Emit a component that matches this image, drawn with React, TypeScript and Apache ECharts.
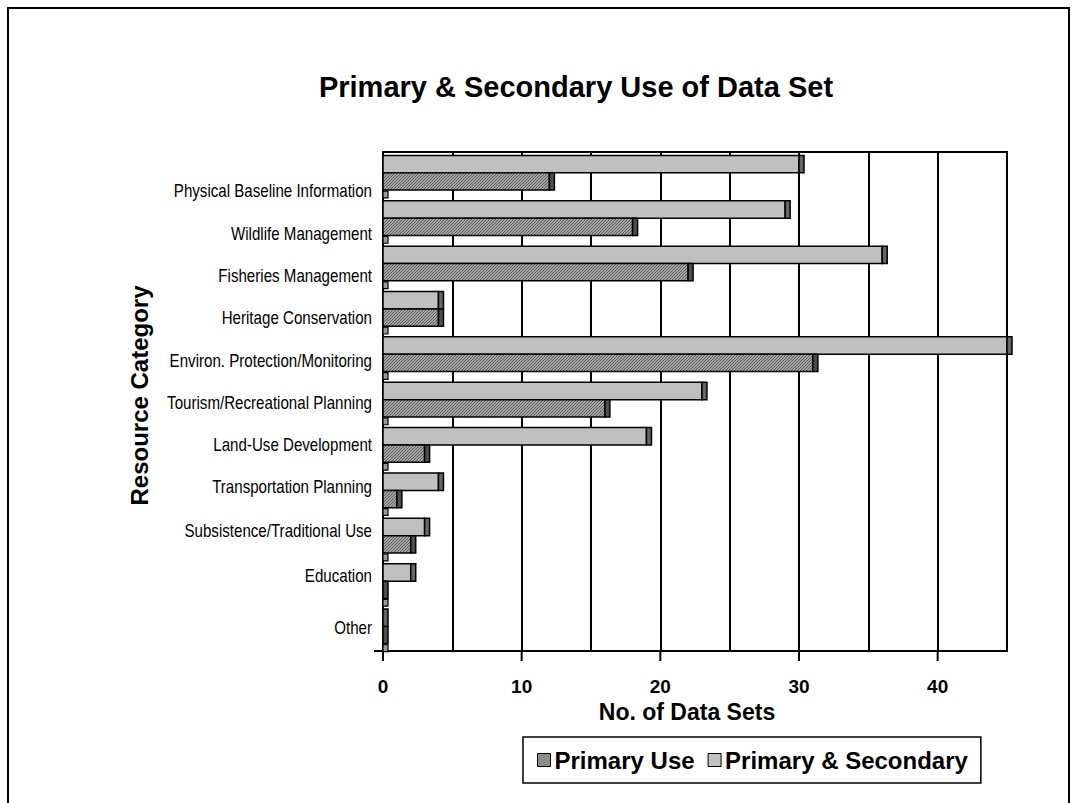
import React, { useEffect, useRef } from "react";
import * as echarts from "echarts";

const categories = [
  "Physical Baseline Information",
  "Wildlife Management",
  "Fisheries Management",
  "Heritage Conservation",
  "Environ. Protection/Monitoring",
  "Tourism/Recreational Planning",
  "Land-Use Development",
  "Transportation Planning",
  "Subsistence/Traditional Use",
  "Education",
  "Other",
];
const primaryUse = [12, 18, 22, 4, 31, 16, 3, 1, 2, 0, 0];
const primaryAndSecondary = [30, 29, 36, 4, 45, 23, 19, 4, 3, 2, 0];
const xTickValues = [0, 10, 20, 30, 40];
const seriesNames = ["Primary Use", "Primary & Secondary"];
const titleText = "Primary & Secondary Use of Data Set";
const xAxisTitle = "No. of Data Sets";
const yAxisTitle = "Resource Category";

// vertical shift of each category label (3D perspective look of the original)
const labelShift = [16, 14, 11, 7, 5, 1.5, -2, -4.7, -6.6, -6.5, 0];

function makeHatch() {
  const c = document.createElement("canvas");
  c.width = 3;
  c.height = 3;
  const g = c.getContext("2d")!;
  g.fillStyle = "#a4a4a4";
  g.fillRect(0, 0, 3, 3);
  g.fillStyle = "#5e5e5e";
  for (let x = 0; x < 3; x++) {
    for (let y = 0; y < 3; y++) {
      if ((x + y) % 3 === 0) g.fillRect(x, y, 1, 1);
    }
  }
  return c;
}

export default function App() {
  const ref = useRef<HTMLDivElement>(null);
  useEffect(() => {
    if (!ref.current) return;
    const chart = echarts.init(ref.current, undefined, { renderer: "svg" });
    const boldFont = "'Liberation Sans', Arial, sans-serif";
    const hatch = { image: makeHatch(), repeat: "repeat" } as any;
    const lightFill = "#c0c0c0";
    const CAP = 5;

    const render = (kind: "ps" | "pu") => (params: any, api: any) => {
      const v = api.value(0);
      const ci = api.value(1);
      const p0 = api.coord([0, ci]);
      const p1 = api.coord([v, ci]);
      const bh = api.size([0, 1])[1];
      const top = p0[1] - bh / 2;
      let y0: number, y1: number;
      if (kind === "ps") {
        y0 = top + bh * 0.075;
        y1 = top + bh * 0.46;
      } else {
        y0 = top + bh * 0.46;
        y1 = top + bh * 0.84;
      }
      const children: any[] = [];
      const w = p1[0] - p0[0];
      if (w > 0) {
        children.push({
          type: "rect",
          shape: { x: p0[0], y: y0, width: w, height: y1 - y0 },
          style: { fill: kind === "ps" ? lightFill : hatch, stroke: "#000", lineWidth: 1.5 },
        });
      }
      children.push({
        type: "rect",
        shape: { x: p1[0], y: y0, width: CAP, height: y1 - y0 },
        style: { fill: kind === "ps" ? "#666666" : "#4e4e4e", stroke: "#000", lineWidth: 1.5 },
      });
      if (kind === "pu") {
        children.push({
          type: "rect",
          shape: { x: p0[0], y: y1 + 1, width: CAP, height: bh * 0.15 },
          style: { fill: "#9a9a9a", stroke: "#000", lineWidth: 1.2 },
        });
      }
      return { type: "group", children };
    };

    const renderLabel = (params: any, api: any) => {
      const ci = api.value(1);
      const p = api.coord([0, ci]);
      return {
        type: "text",
        x: p[0] - 11,
        y: p[1] + labelShift[ci],
        scaleX: 0.84,
        style: {
          text: categories[ci],
          x: 0,
          y: 0,
          align: "right",
          verticalAlign: "middle",
          fontSize: 18,
          fontFamily: "'Liberation Sans', Arial, sans-serif",
          fill: "#000",
        },
      };
    };

    const renderTick = (params: any, api: any) => {
      const v = api.value(0);
      const last = categories.length - 1;
      const p = api.coord([v, last]);
      const bh = api.size([0, 1])[1];
      const yb = p[1] + bh / 2;
      const children: any[] = [
        {
          type: "rect",
          shape: { x: p[0] - 1, y: yb, width: 2, height: 10 },
          style: { fill: "#000" },
        },
      ];
      if (v === 0) {
        children.push({
          type: "rect",
          shape: { x: p[0] - 9, y: yb - 1, width: 9, height: 2 },
          style: { fill: "#000" },
        });
      }
      return { type: "group", children };
    };

    chart.setOption({
      animation: false,
      backgroundColor: "#ffffff",
      title: {
        text: titleText,
        left: 571,
        top: 67,
        textAlign: "center",
        textStyle: { fontSize: 29, fontWeight: "bold", fontFamily: boldFont, color: "#000" },
      },
      graphic: [
        {
          type: "rect",
          shape: { x: 8, y: 8, width: 1061, height: 820 },
          style: { fill: "none", stroke: "#000", lineWidth: 2 },
          silent: true,
        },
      ],
      legend: {
        left: 523,
        top: 737,
        orient: "horizontal",
        padding: [11, 13, 11, 14],
        itemGap: 13,
        itemWidth: 13,
        itemHeight: 13,
        borderColor: "#000",
        borderWidth: 1.5,
        textStyle: { fontSize: 24, fontWeight: "bold", fontFamily: boldFont, color: "#000", padding: [0, 0, 0, -1] },
        data: [
          { name: seriesNames[0], icon: "rect", itemStyle: { color: hatch, borderColor: "#000", borderWidth: 1 } },
          { name: seriesNames[1], icon: "rect", itemStyle: { color: lightFill, borderColor: "#000", borderWidth: 1 } },
        ],
      },
      grid: {
        left: 383,
        right: 71,
        top: 152,
        bottom: 152,
        show: true,
        borderColor: "#000",
        borderWidth: 2,
        backgroundColor: "#fff",
      },
      xAxis: {
        type: "value",
        min: 0,
        max: 45,
        interval: 10,
        name: xAxisTitle,
        nameLocation: "middle",
        nameGap: 47,
        nameTextStyle: { fontSize: 23, fontWeight: "bold", fontFamily: boldFont, color: "#000", padding: [0, 16, 0, 0] },
        axisLine: { show: true, onZero: false, lineStyle: { color: "#000", width: 2 } },
        axisTick: { show: false },
        axisLabel: {
          margin: 26,
          fontSize: 19,
          fontWeight: "bold",
          fontFamily: boldFont,
          color: "#000",
          showMaxLabel: false,
        },
        splitLine: { show: true, lineStyle: { color: "#000", width: 2 } },
        minorTick: { show: false, splitNumber: 2 },
        minorSplitLine: { show: true, lineStyle: { color: "#000", width: 2 } },
      },
      yAxis: {
        type: "category",
        inverse: true,
        data: categories,
        name: yAxisTitle,
        nameLocation: "middle",
        nameRotate: 90,
        nameGap: 232,
        nameTextStyle: {
          fontSize: 24,
          fontWeight: "bold",
          fontFamily: boldFont,
          color: "#000",
          padding: [0, 0, 0, 12],
        },
        axisLine: { show: true, lineStyle: { color: "#000", width: 2 } },
        axisTick: { show: false },
        splitLine: { show: false },
        axisLabel: { show: false },
      },
      series: [
        {
          type: "custom",
          name: seriesNames[1],
          renderItem: render("ps"),
          itemStyle: { color: lightFill },
          encode: { x: 0, y: 1 },
          clip: false,
          z: 3,
          data: primaryAndSecondary.map((v, i) => [v, i]),
        },
        {
          type: "custom",
          name: seriesNames[0],
          renderItem: render("pu"),
          itemStyle: { color: "#8c8c8c" },
          encode: { x: 0, y: 1 },
          clip: false,
          z: 3,
          data: primaryUse.map((v, i) => [v, i]),
        },
        {
          type: "custom",
          name: "category labels",
          renderItem: renderLabel,
          encode: { x: 0, y: 1 },
          clip: false,
          silent: true,
          z: 4,
          data: categories.map((_, i) => [0, i]),
        },
        {
          type: "custom",
          name: "x ticks",
          renderItem: renderTick,
          encode: { x: 0, y: 1 },
          clip: false,
          silent: true,
          z: 4,
          data: xTickValues.map((v) => [v, categories.length - 1]),
        },
      ],
    });
    return () => chart.dispose();
  }, []);
  return (
    <div
      ref={ref}
      style={{ position: "absolute", left: 0, top: 0, width: 1078, height: 803, background: "#fff" }}
    />
  );
}
